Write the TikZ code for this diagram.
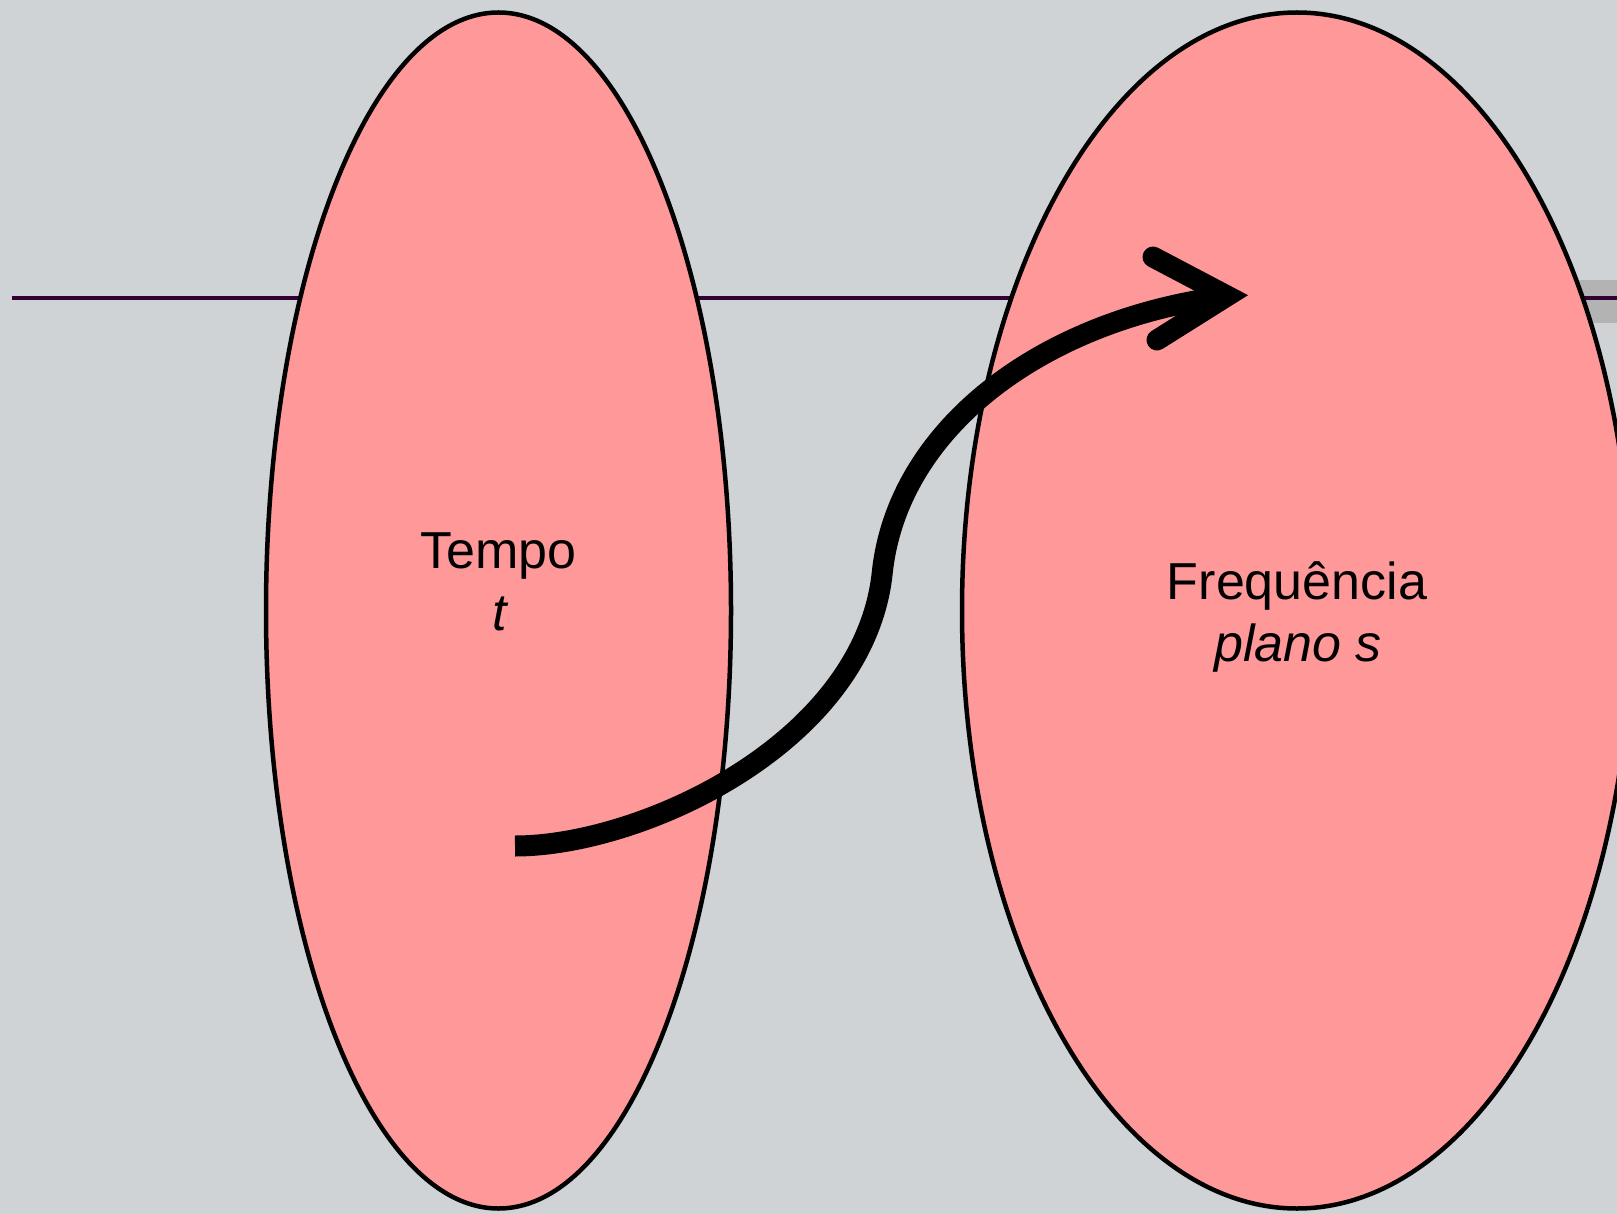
\documentclass[tikz,border=0pt]{standalone}
\usepackage{fontspec}
\setmainfont{Liberation Sans}
\usetikzlibrary{shapes.geometric,calc}
\definecolor{bgc}{HTML}{CFD3D6}
\definecolor{pinkfill}{HTML}{FF9999}
\definecolor{darkline}{HTML}{330033}
\definecolor{barc}{HTML}{B3B3B3}
\tikzset{
  domainbox/.style={ellipse, draw=black, line width=4.5pt, fill=pinkfill, inner sep=0pt, outer sep=0pt},
  txtlabel/.style={anchor=base, inner sep=0pt, font=\fontsize{52}{62}\selectfont},
  connline/.style={line width=21pt, line cap=butt, draw=black},
  headstyle/.style={line width=21pt, line cap=round, line join=miter, miter limit=10, draw=black}
}
\begin{document}
\begin{tikzpicture}[x=1pt,y=-1pt]
\useasboundingbox (0,0) rectangle (1617,1214);
\clip (0,0) rectangle (1617,1214);
\fill[bgc] (0,0) rectangle (1617,1214);
% gray bar at right and horizontal line
\fill[barc] (1500,280) rectangle (1617,323);
\coordinate (l0) at (11.5,298);
\coordinate (l1) at (1617,298);
\draw[darkline, line width=4pt] (l0) -- (l1);
% ellipses
\node[domainbox, minimum width=465pt, minimum height=1196pt] (left) at (498.5,610.5) {};
\node[domainbox, minimum width=670pt, minimum height=1196pt] (right) at (1297,610.5) {};
% texts
\node[txtlabel] (tempo) at (498.5,568.3) {Tempo};
\node[txtlabel] (tvar) at (500,630) {\itshape t};
\node[txtlabel] (freq) at (1297,599.5) {Frequência};
\node[txtlabel] (planos) at (1298,661.7) {\itshape plano s};
% arrow
\coordinate (a0) at (515,846);
\coordinate (am) at (882,575);
\coordinate (av) at (1227,296);
\draw[connline] (a0) .. controls (640,846) and (862,745) .. (am)
  .. controls (896,430) and (1040,320) .. (av);
\draw[headstyle] ($(av)+(-74,-39)$) -- (av) -- ($(av)+(-70,44)$);
\end{tikzpicture}
\end{document}
